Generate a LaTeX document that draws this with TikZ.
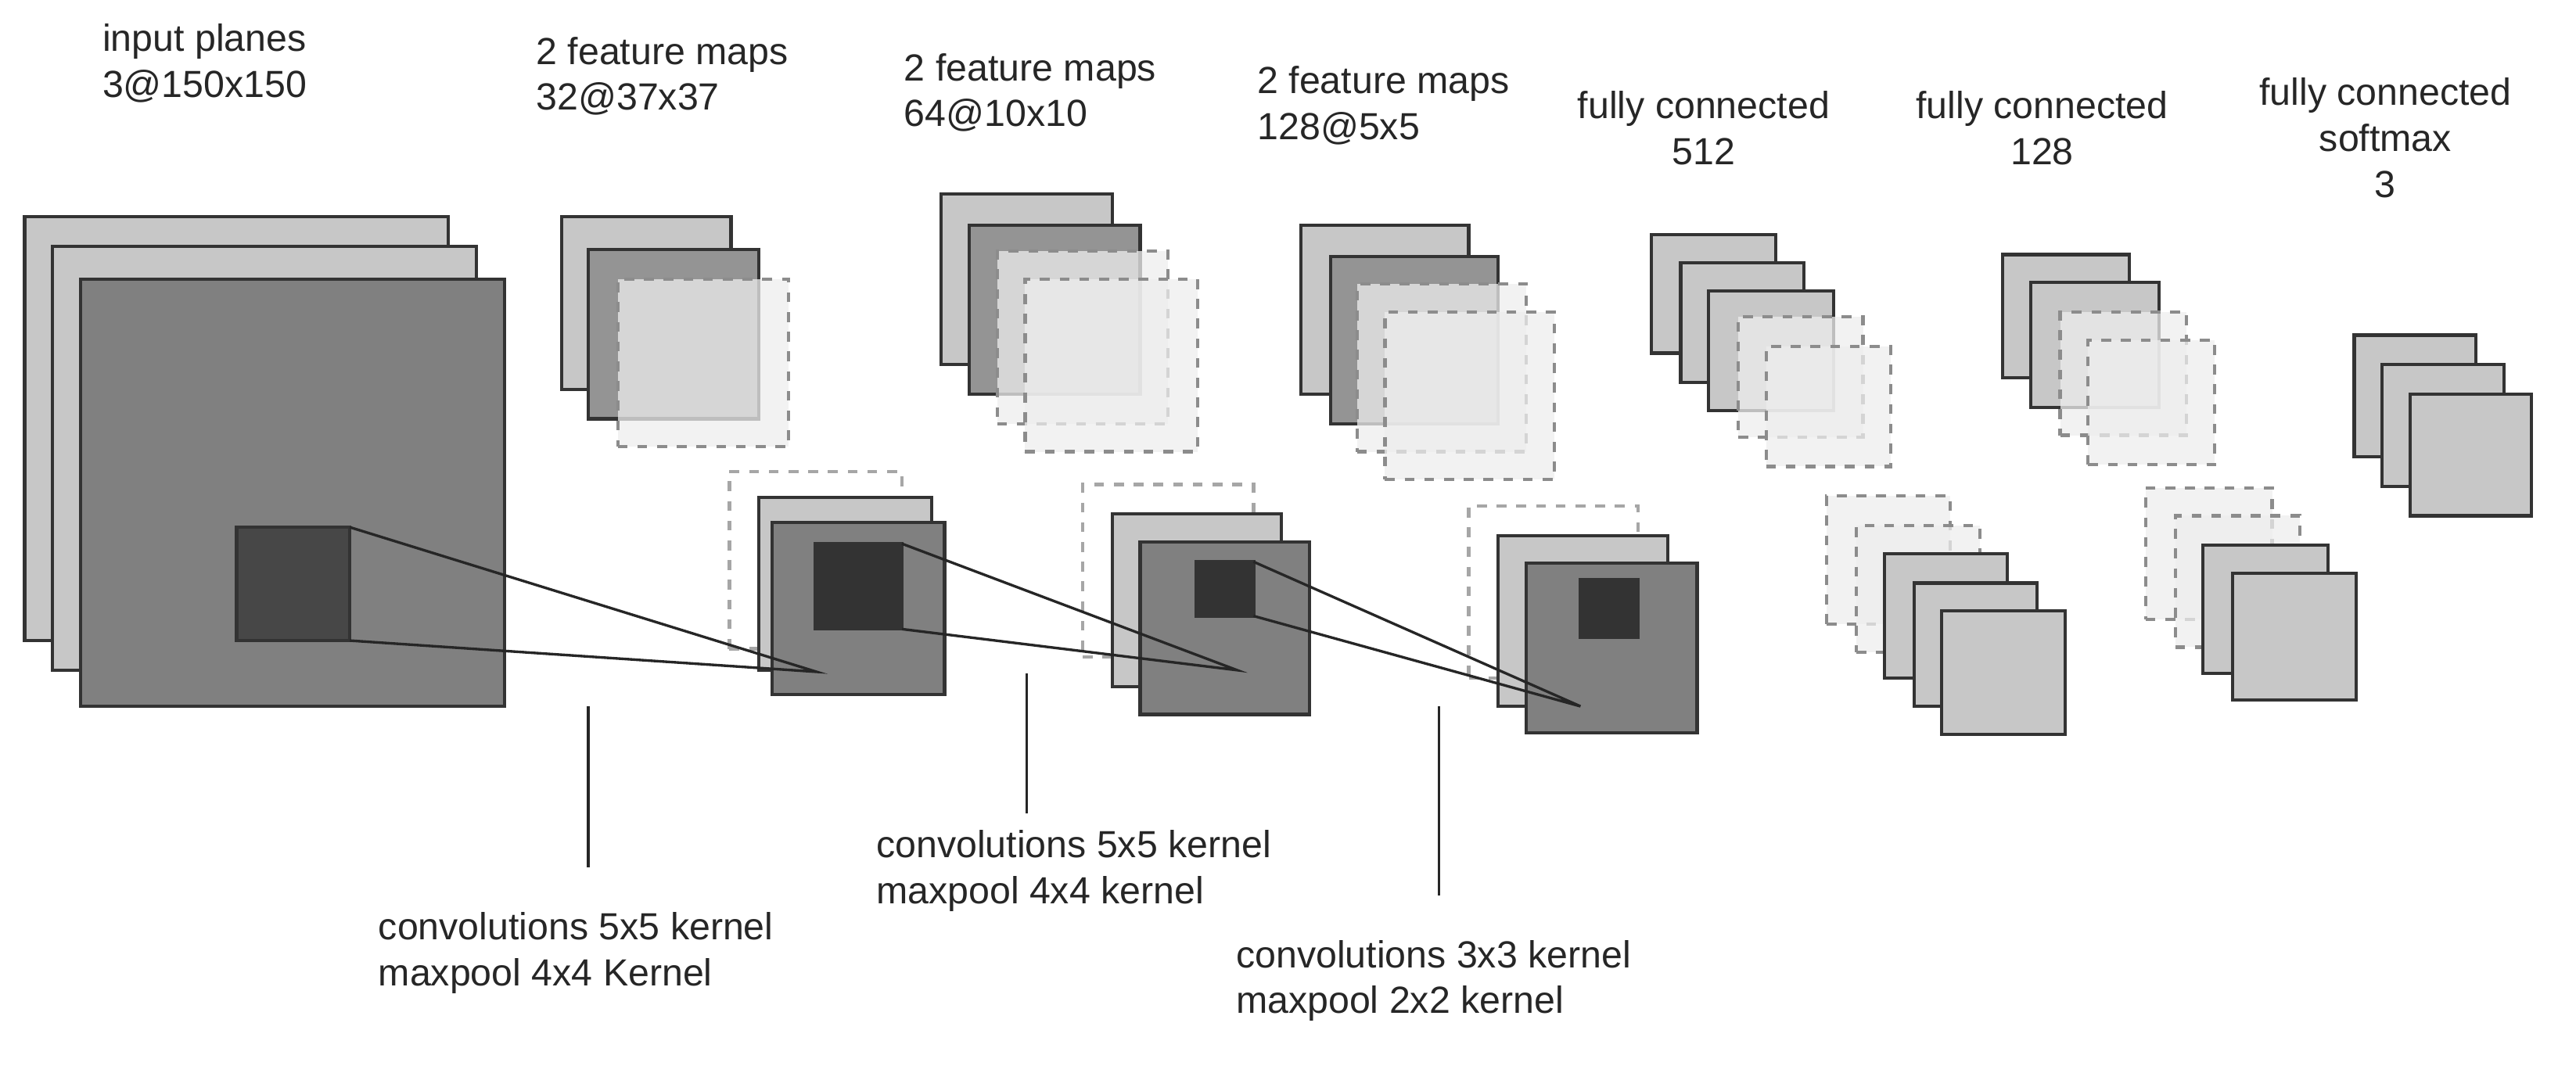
\documentclass[tikz,border=0pt]{standalone}
\usepackage{fontspec}
\setmainfont{Liberation Sans}
\usetikzlibrary{fit}
\begin{document}
\begin{tikzpicture}[x=0.5pt,y=-0.5pt,
  bx/.style={inner sep=0pt,outer sep=0pt,draw=black!80,line width=1pt},
  lt/.style={bx,fill=black!22},
  md/.style={bx,fill=black!42},
  dk/.style={bx,fill=black!50},
  ink/.style={bx,fill=black!72},
  ds/.style={bx,draw=black!45,dashed,fill=black!7,fill opacity=0.75},
  dn/.style={bx,draw=black!35,dashed},
  lbl/.style={font=\fontsize{11.5}{14}\selectfont,align=left,anchor=north west,inner sep=0pt,text=black!85},
  lblc/.style={font=\fontsize{11.5}{14}\selectfont,align=center,anchor=north,inner sep=0pt,text=black!85},
  ln/.style={draw=black!85,line width=0.8pt}]
\useasboundingbox (0,0) rectangle (1568,649);
\newcommand{\bx}[4]{\node[#4,fit={(#2)(#3)}] (#1) {};}
% input
\bx{i1}{15,132}{273,390}{lt}
\bx{i2}{32,150}{290,408}{lt}
\bx{i3}{49,170}{307,430}{dk}
\bx{ik}{144,321}{213,390}{ink}
% group1
\bx{a1}{342,132}{445,237}{lt}
\bx{a2}{358,152}{462,255}{md}
\bx{a3}{376,170}{480,272}{ds}
\bx{b0}{444,287}{549,395}{dn}
\bx{b1}{462,303}{567,408}{lt}
\bx{b2}{470,318}{575,423}{dk}
\bx{bk}{496,331}{549,383}{bx,fill=black!80}
% group2
\bx{c1}{573,118}{677,222}{lt}
\bx{c2}{590,137}{694,240}{md}
\bx{c3}{607,153}{711,258}{ds}
\bx{c4}{624,170}{729,275}{ds}
\bx{d0}{659,295}{763,400}{dn}
\bx{d1}{677,313}{780,418}{lt}
\bx{d2}{694,330}{797,435}{dk}
\bx{dk}{728,342}{763,375}{bx,fill=black!80}
% group3
\bx{e1}{792,137}{894,240}{lt}
\bx{e2}{810,156}{912,258}{md}
\bx{e3}{826,173}{929,275}{ds}
\bx{e4}{843,190}{946,292}{ds}
\bx{f0}{894,308}{997,413}{dn}
\bx{f1}{912,326}{1015,430}{lt}
\bx{f2}{929,343}{1033,446}{dk}
\bx{fk}{962,353}{997,388}{bx,fill=black!80}
% fc512
\bx{g1}{1005,143}{1081,215}{lt}
\bx{g2}{1023,160}{1098,233}{lt}
\bx{g3}{1040,177}{1116,250}{lt}
\bx{g4}{1058,193}{1134,266}{ds}
\bx{g5}{1075,211}{1151,284}{ds}
\bx{h1}{1112,302}{1187,380}{ds}
\bx{h2}{1130,320}{1205,397}{ds}
\bx{h3}{1147,337}{1222,413}{lt}
\bx{h4}{1165,355}{1240,430}{lt}
\bx{h5}{1182,372}{1257,447}{lt}
% fc128
\bx{j1}{1219,155}{1296,230}{lt}
\bx{j2}{1236,172}{1314,248}{lt}
\bx{j3}{1254,190}{1331,265}{ds}
\bx{j4}{1271,207}{1348,283}{ds}
\bx{k1}{1306,297}{1383,377}{ds}
\bx{k2}{1324,314}{1400,394}{ds}
\bx{k3}{1341,332}{1417,410}{lt}
\bx{k4}{1359,349}{1434,426}{lt}
% softmax
\bx{m1}{1433,204}{1507,278}{lt}
\bx{m2}{1450,222}{1524,296}{lt}
\bx{m3}{1467,240}{1541,314}{lt}
% projection lines
\coordinate (pa) at (497,409);
\coordinate (pb) at (753,408);
\coordinate (pc) at (962,430);
\draw[ln] (ik.north east) -- (pa) -- (ik.south east);
\draw[ln] (bk.north east) -- (pb) -- (bk.south east);
\draw[ln] (dk.north east) -- (pc) -- (dk.south east);
% leader lines
\coordinate (v1a) at (358,430); \coordinate (v1b) at (358,528);
\coordinate (v2a) at (625,410); \coordinate (v2b) at (625,495);
\coordinate (v3a) at (876,430); \coordinate (v3b) at (876,545);
\draw[ln] (v1a) -- (v1b);
\draw[ln] (v2a) -- (v2b);
\draw[ln] (v3a) -- (v3b);
% labels
\node[lbl] (t1) at (62,14) {input planes\\3@150x150};
\node[lbl] (t2) at (326,22) {2 feature maps\\32@37x37};
\node[lbl] (t3) at (550,32) {2 feature maps\\64@10x10};
\node[lbl] (t4) at (765,40) {2 feature maps\\128@5x5};
\node[lblc] (t5) at (1037,55) {fully connected\\512};
\node[lblc] (t6) at (1243,55) {fully connected\\128};
\node[lblc] (t7) at (1452,47) {fully connected\\softmax\\3};
\node[lbl] (u1) at (230,555) {convolutions 5x5 kernel\\maxpool 4x4 Kernel};
\node[lbl] (u2) at (533,505) {convolutions 5x5 kernel\\maxpool 4x4 kernel};
\node[lbl] (u3) at (752,572) {convolutions 3x3 kernel\\maxpool 2x2 kernel};
\end{tikzpicture}
\end{document}
